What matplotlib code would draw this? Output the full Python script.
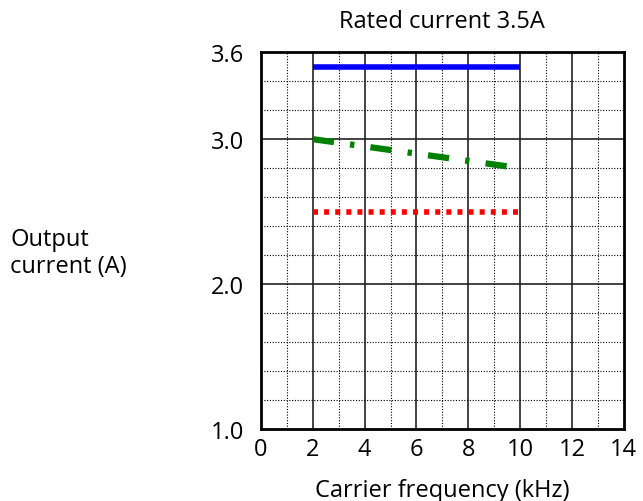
import matplotlib.pyplot as plt
import numpy as np

# carrier frequency (kHz) vs output current (A)
freq = [2, 10]
blue_current = [3.5, 3.5]
green_current = [3.0, 2.8]
red_current = [2.5, 2.5]

x_ticks = [0, 2, 4, 6, 8, 10, 12, 14]
y_ticks = [1.0, 2.0, 3.0, 3.6]
y_labels = ['1.0', '2.0', '3.0', '3.6']

plt.rcParams['font.family'] = ['Open Sans', 'DejaVu Sans']

fig = plt.figure(figsize=(6.43, 5.02), dpi=100)
ax = fig.add_axes([0.406, 0.1434, 0.564, 0.7506])

ax.set_xlim(0, 14)
ax.set_ylim(1.0, 3.6)

# grid
ax.set_xticks(np.arange(0, 15, 1), minor=True)
ax.set_yticks(np.arange(1.0, 3.61, 0.2), minor=True)
ax.grid(which='minor', color='black', linestyle=(0, (1, 1.5)), linewidth=0.8)
for xv in range(2, 14, 2):
    ax.axvline(xv, color='#222222', linewidth=1.2, zorder=1)
for yv in [2.0, 3.0]:
    ax.axhline(yv, color='#222222', linewidth=1.2, zorder=1)

ax.plot(freq, blue_current, color='#0000ff', linewidth=4, solid_capstyle='butt', zorder=3)
ax.plot(freq, green_current, color='#008000', linewidth=4.5,
        linestyle=(0, (3.4, 2.6, 0.7, 2.6)), zorder=3)
ax.plot(freq, red_current, color='#ff0000', linewidth=4,
        linestyle=(0, (0.9, 1.1)), zorder=3)

ax.set_xticks(x_ticks)
ax.set_xticklabels([str(v) for v in x_ticks])
ax.set_yticks(y_ticks)
ax.set_yticklabels(y_labels)
ax.tick_params(which='both', length=0, labelsize=17)
ax.tick_params(axis='x', pad=6)
ax.tick_params(axis='y', pad=12)

for s in ax.spines.values():
    s.set_linewidth(2)
    s.set_color('black')

ax.set_title('Rated current 3.5A', fontsize=17, pad=18)
ax.set_xlabel('Carrier frequency (kHz)', fontsize=17, labelpad=12)
fig.text(0.016, 0.495, 'Output\ncurrent (A)', fontsize=17, ha='left', va='center',
         linespacing=1.15)

fig.savefig('out.png', dpi=100)
